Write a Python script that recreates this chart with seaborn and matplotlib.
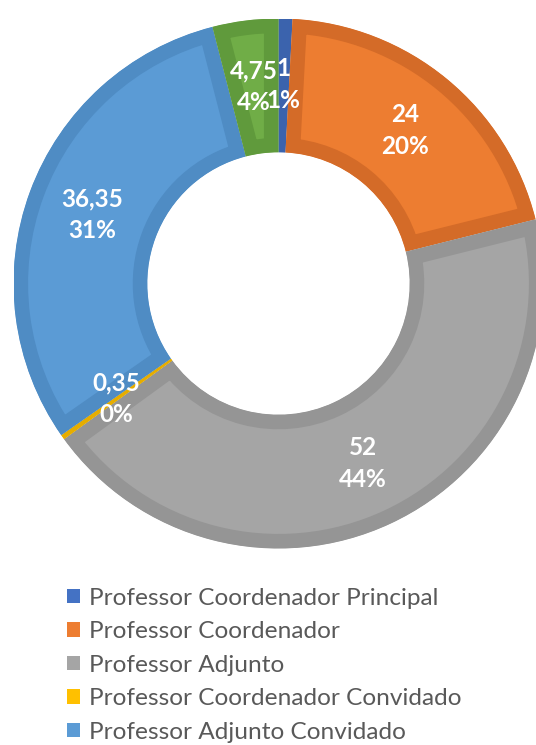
import matplotlib
matplotlib.use('Agg')
import matplotlib.pyplot as plt
import seaborn as sns
from matplotlib.patches import Patch

sns.set_theme(style='white')
plt.rcParams['font.family'] = ['Lato', 'DejaVu Sans']

# dados (ordem no sentido horário a partir do topo)
categorias = ['Professor Coordenador Principal', 'Professor Coordenador', 'Professor Adjunto',
              'Professor Coordenador Convidado', 'Professor Adjunto Convidado', 'Assistente Convidado']
valores = [1, 24, 52, 0.35, 36.35, 4.75]
rotulos_valor = ['1', '24', '52', '0,35', '36,35', '4,75']

cores = ['#4472C4', '#ED7D31', '#A5A5A5', '#FFC000', '#5B9BD5', '#70AD47']
bordas = ['#3B63AD', '#D46B28', '#959595', '#E6AD00', '#4F8CC4', '#609A3C']

fig = plt.figure(figsize=(5.36, 7.45), dpi=100)
ax = fig.add_axes([13.5 / 536, 196.5 / 745, 530 / 536, 530 / 745])

total = sum(valores)
wedges, textos, autotextos = ax.pie(valores, colors=cores, startangle=90, counterclock=False,
                                    radius=1, autopct=lambda p: '', pctdistance=0.75,
                                    wedgeprops=dict(width=0.505, linewidth=21))

# borda interna mais escura em cada fatia (traço recortado pela própria fatia)
for w, b in zip(wedges, bordas):
    w.set_edgecolor(b)
    w.set_clip_on(True)
    w.set_clip_path(w)

for t, v, r in zip(autotextos, valores, rotulos_valor):
    t.set_text(f'{r}\n{round(v / total * 100):.0f}%')
    t.set_color('white')
    t.set_fontweight('bold')
    t.set_fontsize(17.5)
    t.set_linespacing(1.46)

ax.set_xlim(-1, 1)
ax.set_ylim(-1, 1)
ax.axis('off')

handles = [Patch(facecolor=c, edgecolor='none') for c in cores]
fig.legend(handles, categorias, loc='upper left', bbox_to_anchor=(57 / 536, 1 - 578 / 745),
           frameon=False, fontsize=17.6, labelcolor='#595959', handlelength=0.53, handleheight=0.53,
           handletextpad=0.37, labelspacing=0.51, borderaxespad=0)

fig.savefig('out.png', dpi=100)
